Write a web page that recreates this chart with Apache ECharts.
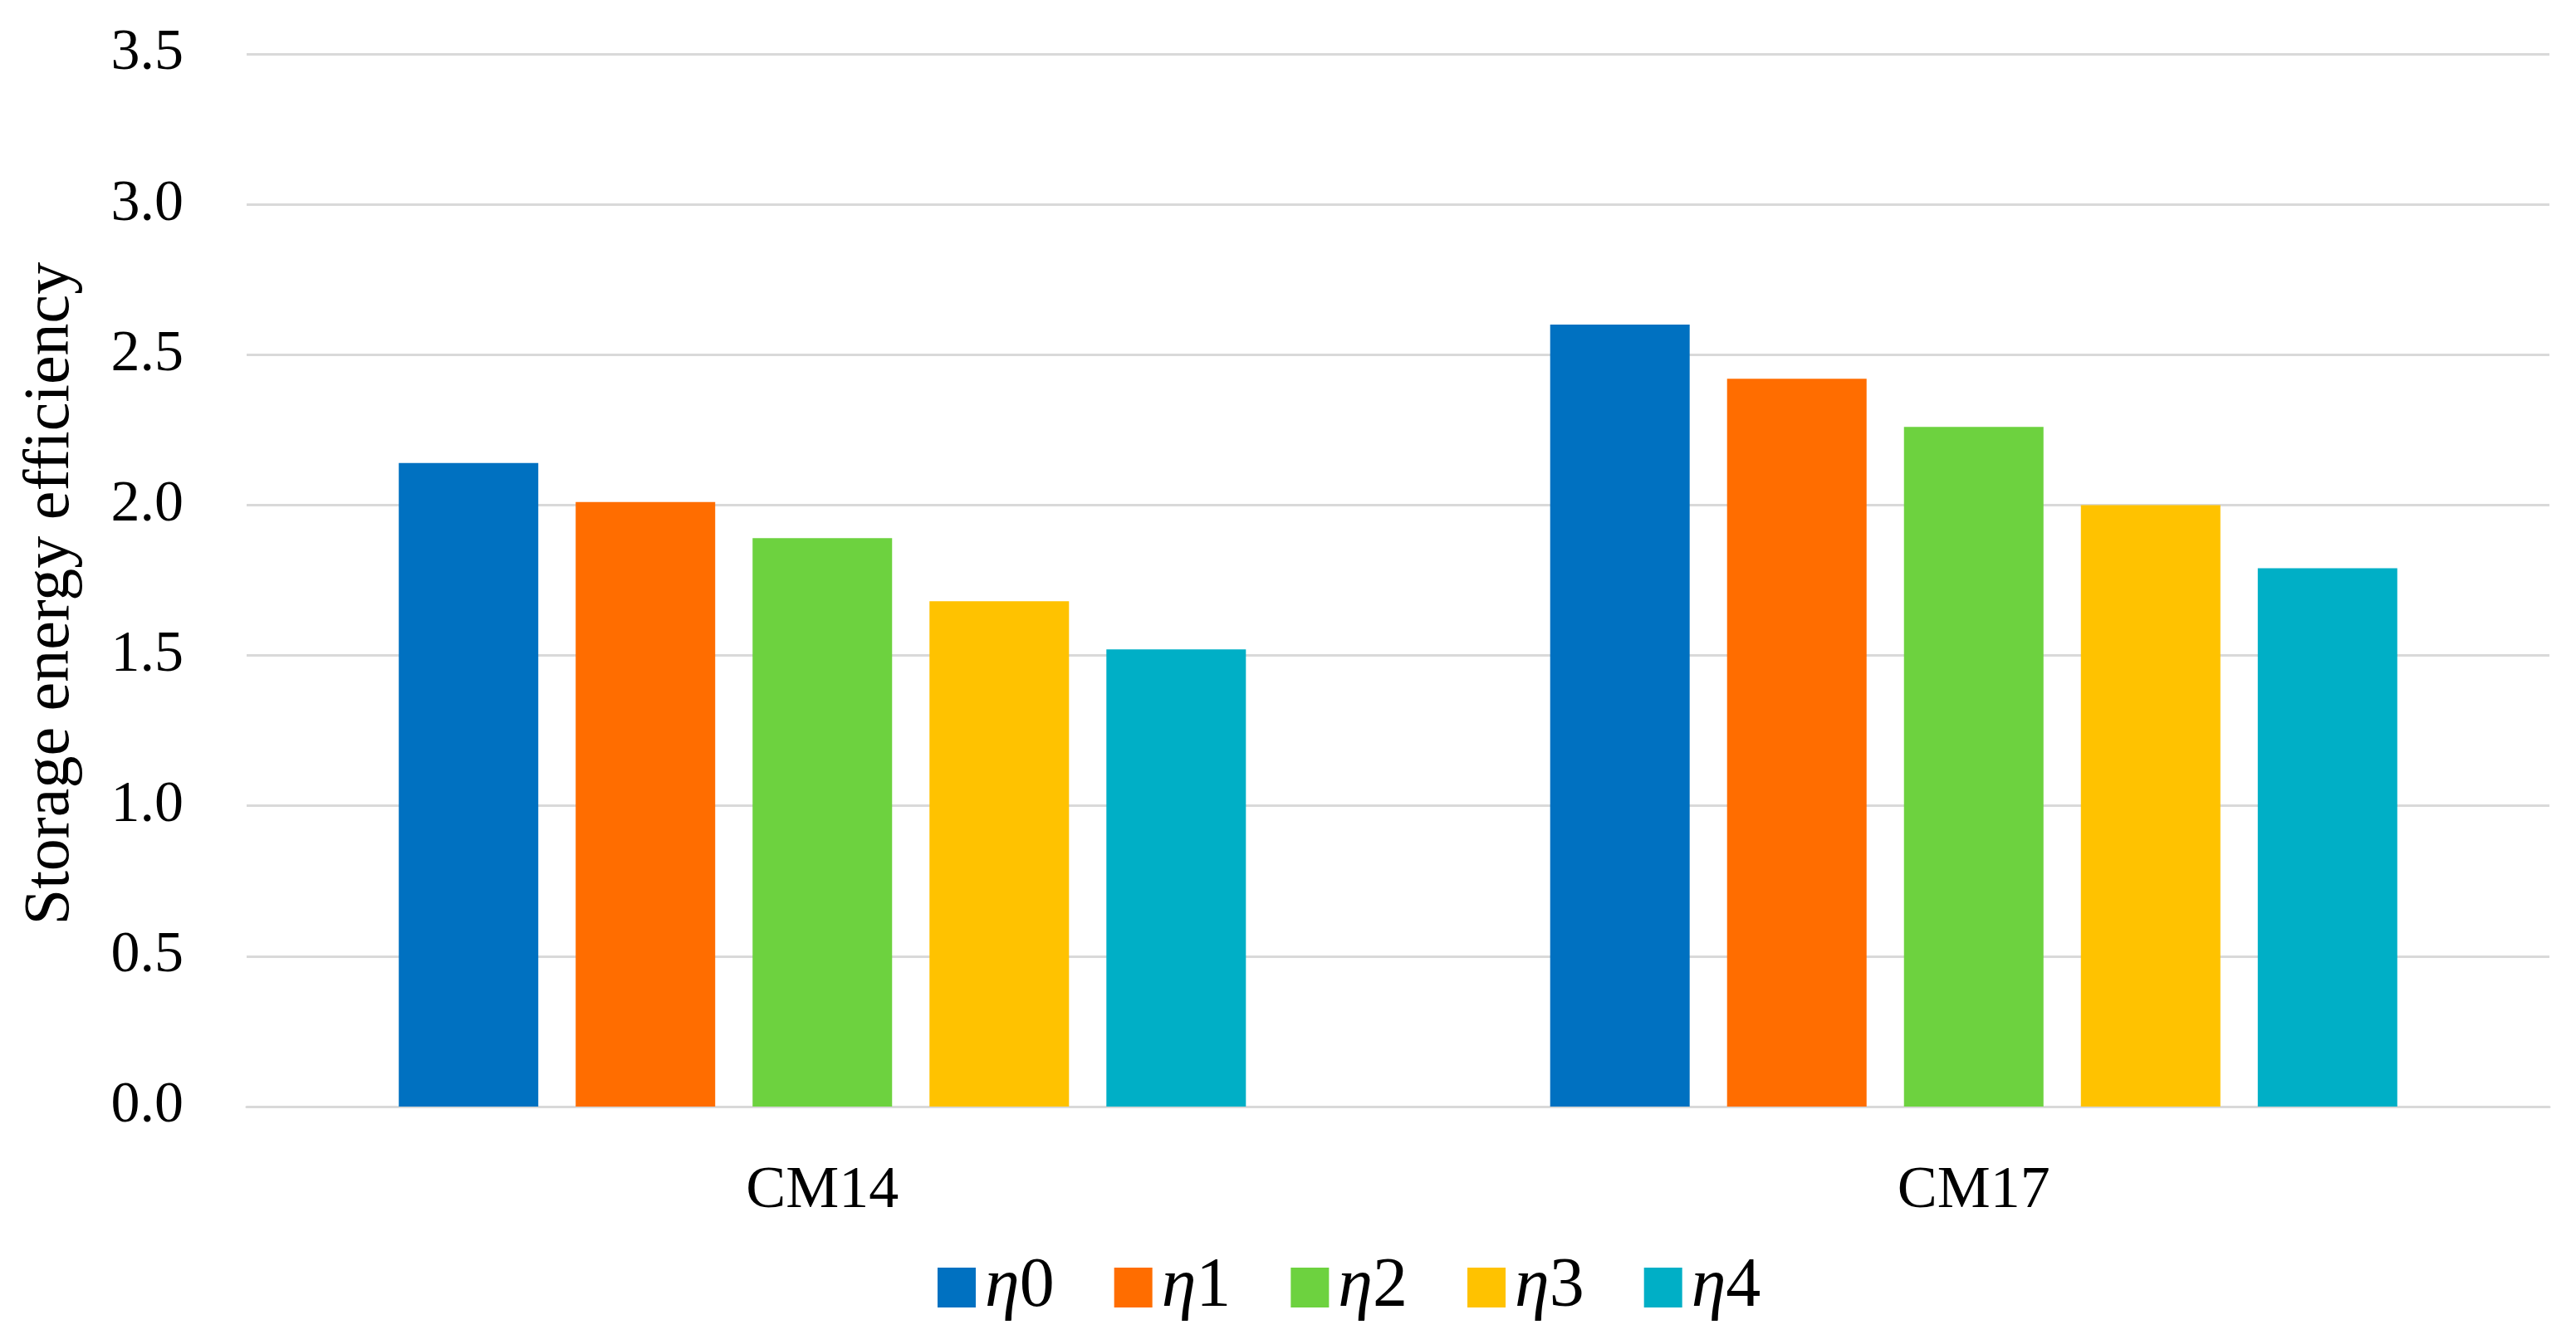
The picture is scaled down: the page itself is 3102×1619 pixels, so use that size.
<!DOCTYPE html>
<html>
<head>
<meta charset="utf-8">
<script src="https://cdn.jsdelivr.net/npm/echarts@6/dist/echarts.min.js"></script>
<style>
html,body{margin:0;padding:0;background:#fff;}
#chart{width:3102px;height:1619px;}
</style>
</head>
<body>
<div id="chart"></div>
<script>
const categories = ['CM14', 'CM17'];
const seriesNames = ['η0', 'η1', 'η2', 'η3', 'η4'];
const eta0 = [2.14, 2.60];
const eta1 = [2.01, 2.42];
const eta2 = [1.89, 2.26];
const eta3 = [1.68, 2.00];
const eta4 = [1.52, 1.79];
const yTicks = [0, 0.5, 1.0, 1.5, 2.0, 2.5, 3.0, 3.5];
const colors = ['#0071C1', '#FF6D00', '#6DD23F', '#FFC200', '#00AFC6'];

const values = [eta0, eta1, eta2, eta3, eta4];
const FONT = '"Liberation Serif", "DejaVu Serif", serif';

const chart = echarts.init(document.getElementById('chart'), null, {renderer: 'canvas'});
chart.setOption({
  backgroundColor: '#ffffff',
  animation: false,
  color: colors,
  grid: {left: 297, right: 32, top: 65, bottom: 286, containLabel: false},
  legend: {
    left: 1124,
    top: 1504,
    itemWidth: 46,
    itemHeight: 48,
    itemGap: 72,
    icon: 'rect',
    data: seriesNames,
    formatter: function (name) {
      return '{e|η}{d|' + name.slice(1) + '}';
    },
    textStyle: {
      fontFamily: FONT,
      fontSize: 84,
      color: '#000',
      padding: [0, 0, 0, 6],
      rich: {
        e: {fontFamily: FONT, fontSize: 84, fontStyle: 'italic', color: '#000'},
        d: {fontFamily: FONT, fontSize: 84, color: '#000'}
      }
    }
  },
  xAxis: {
    type: 'category',
    data: categories,
    axisLine: {show: true, lineStyle: {color: '#d9d9d9', width: 3}},
    axisTick: {show: false},
    axisLabel: {fontFamily: FONT, fontSize: 72, color: '#000', margin: 66}
  },
  yAxis: {
    type: 'value',
    min: 0,
    max: 3.5,
    interval: 0.5,
    name: 'Storage energy efficiency',
    nameLocation: 'middle',
    nameGap: 196,
    nameTextStyle: {fontFamily: FONT, fontSize: 78, color: '#000', padding: [0, 32, 0, 0]},
    axisLine: {show: false},
    axisTick: {show: false},
    splitLine: {lineStyle: {color: '#d9d9d9', width: 3}},
    axisLabel: {
      fontFamily: FONT, fontSize: 70, color: '#000', margin: 76,
      formatter: function (v) { return yTicks.indexOf(v) >= 0 ? v.toFixed(1) : ''; }
    }
  },
  series: seriesNames.map(function (n, i) {
    return {
      name: n,
      type: 'bar',
      data: values[i],
      barWidth: 168,
      barGap: '26.8%',
      itemStyle: {color: colors[i]}
    };
  })
});
</script>
</body>
</html>
